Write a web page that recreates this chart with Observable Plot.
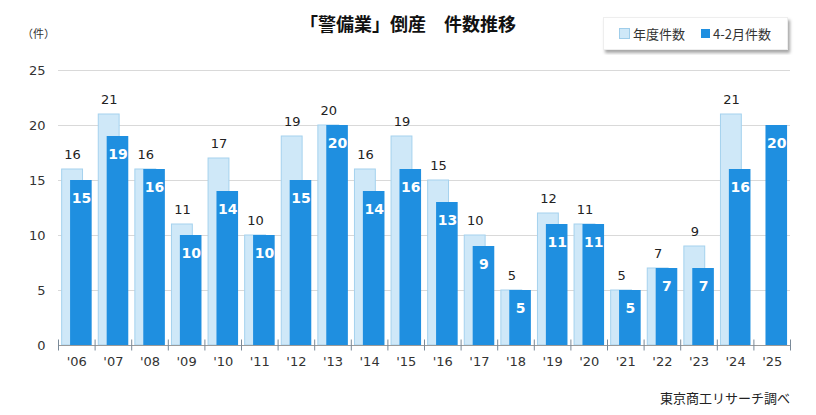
<!DOCTYPE html>
<html><head><meta charset="utf-8">
<script src="https://cdn.jsdelivr.net/npm/d3@7"></script>
<script src="https://cdn.jsdelivr.net/npm/@observablehq/plot@0.6"></script>
<style>
body{margin:0;background:#fff;font-family:"Noto Sans CJK JP","Noto Sans",sans-serif;}
#wrap{position:relative;width:816px;height:415px;overflow:hidden;}
#title{position:absolute;left:0;top:10px;width:816px;text-align:center;font-size:18px;font-weight:bold;color:#111;}
#unit{position:absolute;left:22px;top:25px;font-size:11px;color:#333;}
#legend{position:absolute;left:603px;top:17px;width:183px;height:31px;background:#fff;border:1px solid #eee;box-shadow:2px 3px 3px rgba(0,0,0,0.35);font-size:13px;color:#333;display:flex;align-items:center;}
#legend .sw{display:inline-block;width:9px;height:9px;margin-right:3px;vertical-align:middle;}
#legend span.item{margin-left:15px;display:inline-flex;align-items:center;}
#chart{position:absolute;left:0;top:55px;}
#caption{position:absolute;right:26px;top:388px;font-size:13px;color:#222;}
</style></head><body>
<div id="wrap">
  <div id="title">「警備業」倒産　件数推移</div>
  <div id="unit">（件）</div>
  <div id="legend">
    <span class="item"><span class="sw" style="background:#cfe8f8;border:1px solid #9fcdea"></span>年度件数</span>
    <span class="item" style="margin-left:16px"><span class="sw" style="background:#1f8fe0"></span>4-2月件数</span>
  </div>
  <div id="chart"></div>
  <div id="caption">東京商工リサーチ調べ</div>
</div>
<script>
const years = ["'06","'07","'08","'09","'10","'11","'12","'13","'14","'15","'16","'17","'18","'19","'20","'21","'22","'23","'24","'25"];
const annual = [16,21,16,11,17,10,19,20,16,19,15,10,5,12,11,5,7,9,21,null];
const aprFeb = [15,19,16,10,14,10,15,20,14,16,13,9,5,11,11,5,7,7,16,20];
const yTicks = [0,5,10,15,20,25];

const rows = years.map((y, i) => ({i, year: y, annual: annual[i], aprFeb: aprFeb[i]}));
const annRows = rows.filter(d => d.annual != null);

const numFont = "DejaVu Sans, Verdana, sans-serif";

const chart = Plot.plot({
  width: 816,
  height: 330,
  marginLeft: 58,
  marginRight: 26,
  marginTop: 15,
  marginBottom: 40,
  style: {fontFamily: numFont, background: "#fff", color: "#333"},
  x: {domain: [0, years.length]},
  y: {domain: [0, 25]},
  marks: [
    Plot.ruleY(yTicks.filter(t => t > 0), {stroke: "#d9d9d9"}),
    Plot.rectY(annRows, {x1: d => d.i + 0.1, x2: d => d.i + 0.67, y: "annual", fill: "#cfe8f8", stroke: "#a5d2ee", strokeWidth: 1}),
    Plot.rectY(rows, {x1: d => d.i + 0.33, x2: d => d.i + 0.92, y: "aprFeb", fill: "#1f8fe0"}),
    Plot.text(annRows, {x: d => d.i + 0.385, y: "annual", text: d => String(d.annual), dy: -15, fill: "#222", fontSize: 13}),
    Plot.text(rows, {x: d => d.i + 0.625, y: "aprFeb", text: d => String(d.aprFeb), dy: 18, fill: "#fff", fontSize: 14, fontWeight: "bold"}),
    Plot.ruleY([0], {stroke: "#9a9a9a"}),
    Plot.ruleX(d3.range(years.length + 1), {y1: -0.5, y2: 0.5, stroke: "#7a8a99"}),
    Plot.axisX(d3.range(years.length).map(i => i + 0.5), {tickSize: 0, tickPadding: 11, tickFormat: v => years[Math.floor(v)], fontSize: 13, fill: "#333"}),
    Plot.axisY(yTicks, {tickSize: 0, tickPadding: 13, fontSize: 13, fill: "#333"})
  ]
});
document.getElementById("chart").appendChild(chart);
</script>
</body></html>
